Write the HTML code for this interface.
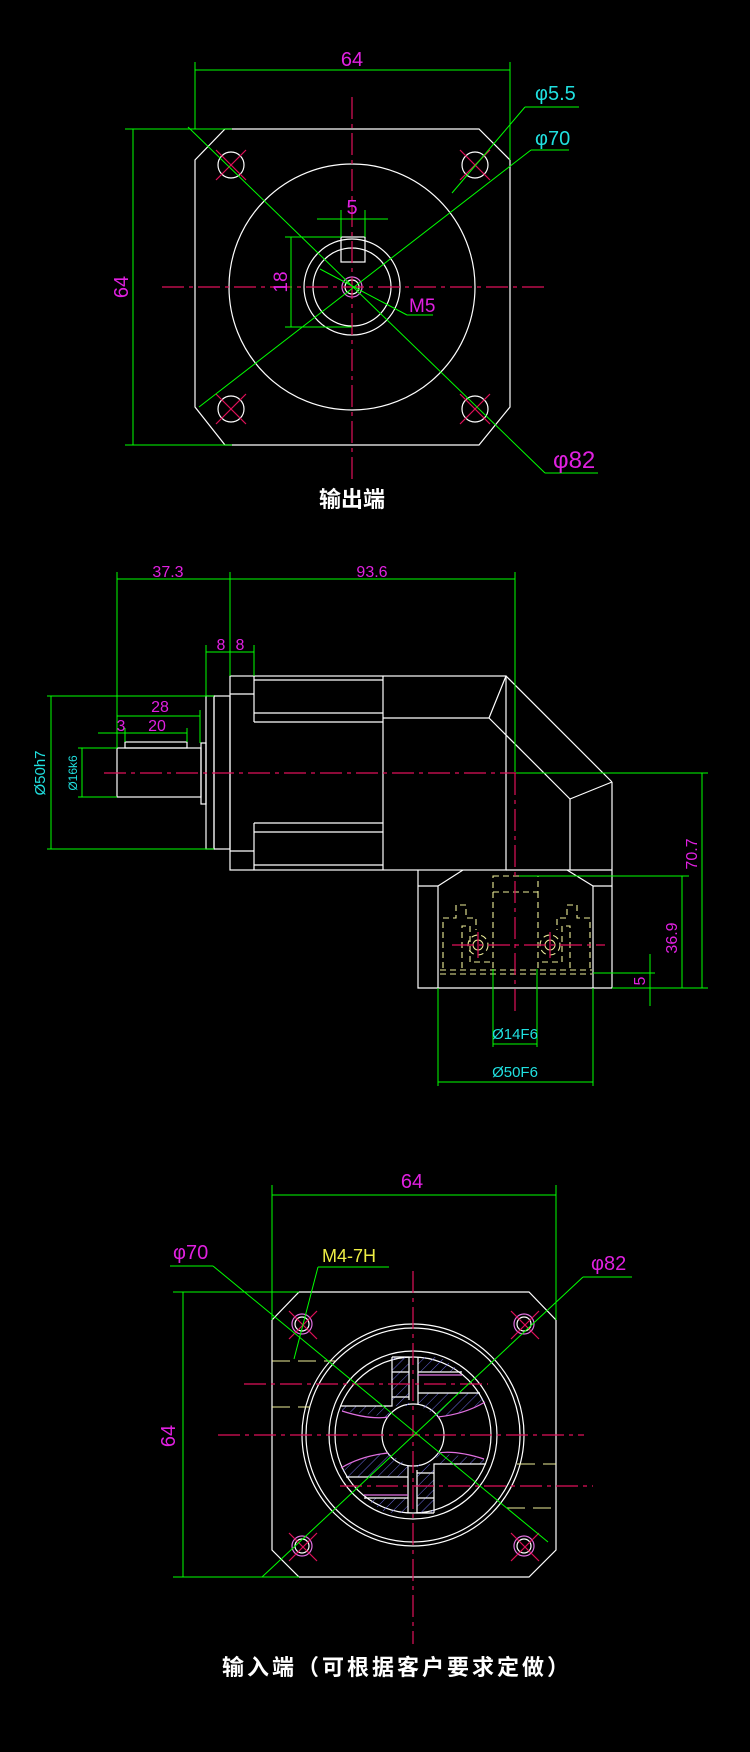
<!DOCTYPE html>
<html><head><meta charset="utf-8"><style>
html,body{margin:0;padding:0;background:#000;}
svg{display:block;}
text{font-family:"Liberation Sans","Noto Sans CJK SC",sans-serif;}
.w{stroke:#fff;stroke-width:1.2;fill:none}
.g{stroke:#0f0;stroke-width:1;fill:none}
.r{stroke:#e0105a;stroke-width:1.2;fill:none;stroke-dasharray:22 5 4 5}
.rs{stroke:#e0105a;stroke-width:1.2;fill:none}
.y{stroke:#ee9;stroke-width:1.1;fill:none;stroke-dasharray:6 4}
.m{fill:#e020e0}
.c{fill:#20e0e0}
.p{stroke:#e070e0;stroke-width:1.2;fill:none}
.h{stroke:#7070e0;stroke-width:0.8}
</style></head><body>
<svg width="750" height="1752" viewBox="0 0 750 1752" xmlns="http://www.w3.org/2000/svg">
<defs>
<pattern id="hp" width="7" height="7" patternUnits="userSpaceOnUse" patternTransform="rotate(45)">
<line x1="0" y1="0" x2="0" y2="7" stroke="#6a6ae0" stroke-width="1"/></pattern>
</defs>
<rect width="750" height="1752" fill="#000"/>

<!-- ===== TOP VIEW ===== -->
<polygon class="w" points="225,129 479,129 510,160 510,407 479,445 225,445 195,407 195,160"/>
<circle class="w" cx="352" cy="287" r="123"/>
<circle class="w" cx="352" cy="287" r="48"/>
<circle class="w" cx="352" cy="287" r="39"/>
<circle class="p" cx="352" cy="287" r="10"/>
<circle class="w" cx="352" cy="287" r="7"/>
<rect class="w" x="341" y="237" width="24" height="25"/>
<g class="w"><circle cx="231" cy="165" r="13"/><circle cx="475" cy="165" r="13"/><circle cx="231" cy="409" r="13"/><circle cx="475" cy="409" r="13"/></g>
<g class="rs">
<line x1="216" y1="180" x2="246" y2="150"/><line x1="216" y1="150" x2="246" y2="180"/>
<line x1="460" y1="180" x2="490" y2="150"/><line x1="460" y1="150" x2="490" y2="180"/>
<line x1="216" y1="424" x2="246" y2="394"/><line x1="216" y1="394" x2="246" y2="424"/>
<line x1="460" y1="424" x2="490" y2="394"/><line x1="460" y1="394" x2="490" y2="424"/>
</g>
<line class="r" x1="162" y1="287" x2="544" y2="287"/>
<line class="r" x1="352" y1="97" x2="352" y2="480"/>
<!-- dims -->
<g class="g">
<line x1="195" y1="62" x2="195" y2="129"/><line x1="510" y1="62" x2="510" y2="160"/>
<line x1="195" y1="70" x2="510" y2="70"/>
<line x1="125" y1="129" x2="232" y2="129"/><line x1="125" y1="445" x2="232" y2="445"/>
<line x1="133" y1="129" x2="133" y2="445"/>
<line x1="188" y1="127" x2="545" y2="473"/><line x1="545" y1="473" x2="598" y2="473"/>
<line x1="199" y1="407" x2="531" y2="150"/><line x1="531" y1="150" x2="569" y2="150"/>
<line x1="452" y1="193" x2="525" y2="107"/><line x1="525" y1="107" x2="579" y2="107"/>
<line x1="317" y1="219" x2="388" y2="219"/><line x1="341" y1="210" x2="341" y2="237"/><line x1="365" y1="210" x2="365" y2="237"/>
<line x1="285" y1="237" x2="341" y2="237"/><line x1="285" y1="327" x2="352" y2="327"/>
<line x1="291" y1="237" x2="291" y2="327"/>
<line x1="320" y1="269" x2="407" y2="315"/><line x1="407" y1="315" x2="433" y2="315"/>
</g>
<text class="m" x="352" y="66" font-size="20" text-anchor="middle">64</text>
<text class="m" x="0" y="0" font-size="20" text-anchor="middle" transform="translate(128,287) rotate(-90)">64</text>
<text class="m" x="352" y="214" font-size="20" text-anchor="middle">5</text>
<text class="m" x="0" y="0" font-size="19" text-anchor="middle" transform="translate(287,282) rotate(-90)">18</text>
<text class="m" x="409" y="312" font-size="19">M5</text>
<text class="c" x="535" y="100" font-size="20">φ5.5</text>
<text class="c" x="535" y="145" font-size="20">φ70</text>
<text class="m" x="553" y="468" font-size="24">φ82</text>
<text x="352" y="507" font-size="22" font-weight="bold" fill="#fff" text-anchor="middle" style="font-family:'Noto Sans CJK SC',sans-serif">输出端</text>

<!-- ===== SIDE VIEW ===== -->
<g class="w">
<rect x="230" y="676" width="276" height="194"/>
<line x1="230" y1="694" x2="254" y2="694"/><line x1="230" y1="851" x2="254" y2="851"/>
<line x1="254" y1="676" x2="254" y2="722"/><line x1="254" y1="823" x2="254" y2="870"/>
<line x1="254" y1="680" x2="383" y2="680"/><line x1="254" y1="713" x2="383" y2="713"/><line x1="254" y1="722" x2="383" y2="722"/>
<line x1="254" y1="823" x2="383" y2="823"/><line x1="254" y1="832" x2="383" y2="832"/><line x1="254" y1="865" x2="383" y2="865"/>
<line x1="383" y1="676" x2="383" y2="870"/>
<line x1="383" y1="718" x2="489" y2="718"/>
<line x1="506" y1="676" x2="489" y2="718"/>
<line x1="506" y1="676" x2="612" y2="782"/>
<line x1="489" y1="718" x2="570" y2="799"/>
<line x1="570" y1="799" x2="612" y2="782"/>
<line x1="570" y1="799" x2="570" y2="870"/>
<line x1="506" y1="870" x2="612" y2="870"/>
<line x1="612" y1="782" x2="612" y2="988"/>
<polyline points="418,870 418,988 612,988"/>
<line x1="438" y1="886" x2="438" y2="988"/><line x1="593" y1="886" x2="593" y2="988"/>
<line x1="418" y1="886" x2="438" y2="886"/><line x1="593" y1="886" x2="612" y2="886"/>
<line x1="438" y1="886" x2="463" y2="870"/><line x1="593" y1="886" x2="567" y2="870"/>
<rect x="206" y="696" width="8" height="153"/>
<rect x="214" y="696" width="16" height="153"/>
<rect x="201" y="743" width="5" height="61"/>
<rect x="117" y="748" width="84" height="49"/>
<rect x="125" y="742" width="62" height="6"/>
</g>
<!-- yellow hidden -->
<g class="y">
<rect x="493" y="876" width="45" height="16"/>
<line x1="493" y1="892" x2="493" y2="969"/><line x1="538" y1="892" x2="538" y2="969"/>
<line x1="440" y1="970" x2="592" y2="970"/><line x1="440" y1="974" x2="592" y2="974"/>
<polyline points="443,968 443,918 456,918 456,905 466,905 466,918 476,918 476,930"/>
<polyline points="462,968 462,926 470,926 470,962 490,962"/>
<polyline points="590,968 590,918 577,918 577,905 567,905 567,918 557,918 557,930"/>
<polyline points="570,968 570,926 562,926 562,962 540,962"/>
<circle cx="478" cy="945" r="10"/><circle cx="550" cy="945" r="10"/>
</g>
<circle cx="478" cy="945" r="5" fill="none" stroke="#ee9"/><circle cx="550" cy="945" r="5" fill="none" stroke="#ee9"/>
<line class="r" x1="452" y1="945" x2="605" y2="945"/>
<line class="rs" x1="478" y1="932" x2="478" y2="958"/><line class="rs" x1="550" y1="932" x2="550" y2="958"/>
<line class="r" x1="104" y1="773" x2="516" y2="773"/>
<line class="r" x1="515" y1="773" x2="515" y2="1015"/>
<g class="g">
<line x1="117" y1="572" x2="117" y2="748"/><line x1="230" y1="572" x2="230" y2="676"/>
<line x1="515" y1="572" x2="515" y2="772"/>
<line x1="117" y1="579" x2="515" y2="579"/>
<line x1="206" y1="645" x2="206" y2="696"/><line x1="254" y1="645" x2="254" y2="676"/>
<line x1="206" y1="652" x2="254" y2="652"/>
<line x1="47" y1="696" x2="214" y2="696"/><line x1="47" y1="849" x2="214" y2="849"/>
<line x1="51" y1="696" x2="51" y2="849"/>
<line x1="78" y1="748" x2="117" y2="748"/><line x1="78" y1="797" x2="117" y2="797"/>
<line x1="82" y1="748" x2="82" y2="797"/>
<line x1="117" y1="716" x2="200" y2="716"/><line x1="200" y1="710" x2="200" y2="743"/>
<line x1="98" y1="733" x2="187" y2="733"/><line x1="125" y1="728" x2="125" y2="742"/><line x1="187" y1="728" x2="187" y2="742"/>
<line x1="516" y1="773" x2="708" y2="773"/><line x1="702" y1="773" x2="702" y2="988"/>
<line x1="519" y1="876" x2="689" y2="876"/><line x1="682" y1="876" x2="682" y2="988"/>
<line x1="612" y1="988" x2="708" y2="988"/>
<line x1="593" y1="973" x2="655" y2="973"/><line x1="650" y1="954" x2="650" y2="1006"/>
<line x1="493" y1="969" x2="493" y2="1047"/><line x1="537" y1="969" x2="537" y2="1047"/>
<line x1="493" y1="1044" x2="537" y2="1044"/>
<line x1="438" y1="988" x2="438" y2="1086"/><line x1="593" y1="988" x2="593" y2="1086"/>
<line x1="438" y1="1082" x2="593" y2="1082"/>
</g>
<text class="m" x="168" y="577" font-size="16" text-anchor="middle">37.3</text>
<text class="m" x="372" y="577" font-size="16" text-anchor="middle">93.6</text>
<text class="m" x="221" y="650" font-size="16" text-anchor="middle">8</text>
<text class="m" x="240" y="650" font-size="16" text-anchor="middle">8</text>
<text class="m" x="160" y="712" font-size="16" text-anchor="middle">28</text>
<text class="m" x="121" y="731" font-size="16" text-anchor="middle">3</text>
<text class="m" x="157" y="731" font-size="16" text-anchor="middle">20</text>
<text class="c" x="0" y="0" font-size="15" text-anchor="middle" transform="translate(45,773) rotate(-90)">Ø50h7</text>
<text class="c" x="0" y="0" font-size="12" text-anchor="middle" transform="translate(77,773) rotate(-90)">Ø16k6</text>
<text class="m" x="0" y="0" font-size="16" text-anchor="middle" transform="translate(697,854) rotate(-90)">70.7</text>
<text class="m" x="0" y="0" font-size="16" text-anchor="middle" transform="translate(677,938) rotate(-90)">36.9</text>
<text class="m" x="0" y="0" font-size="16" text-anchor="middle" transform="translate(645,981) rotate(-90)">5</text>
<text class="c" x="515" y="1039" font-size="15" text-anchor="middle">Ø14F6</text>
<text class="c" x="515" y="1077" font-size="15" text-anchor="middle">Ø50F6</text>

<!-- ===== INPUT VIEW ===== -->
<polygon class="w" points="299,1292 529,1292 556,1320 556,1550 529,1577 299,1577 272,1550 272,1320"/>
<g class="w">
<circle cx="413" cy="1435" r="111"/><circle cx="413" cy="1435" r="107"/>
<circle cx="413" cy="1435" r="84"/><circle cx="413" cy="1435" r="78"/>
<circle cx="413" cy="1435" r="31"/>
</g>
<!-- blades -->
<g id="bl">
<path d="M392,1357 L409,1357 L409,1406 L392,1406 Z M342,1406 L392,1406 L388,1417 Q365,1414 342,1411 Z" fill="url(#hp)"/>
<path d="M418,1357 L440,1357 L462,1372 L418,1372 Z M418,1393 L480,1393 L485,1402 Q460,1414 438,1417 L418,1405 Z" fill="url(#hp)"/>
<g class="w">
<polyline points="392,1357 409,1357 409,1400"/>
<polyline points="392,1357 392,1406 340,1406"/>
<line x1="392" y1="1372" x2="409" y2="1372"/><line x1="392" y1="1397" x2="409" y2="1397"/>
<polyline points="418,1357 418,1404"/>
<line x1="418" y1="1372" x2="462" y2="1372"/>
<line x1="418" y1="1393" x2="480" y2="1393"/>
</g>
<path class="p" d="M342,1411 Q370,1420 388,1417"/>
<path class="p" d="M438,1417 Q465,1414 485,1402"/>
<line class="p" x1="418" y1="1375" x2="462" y2="1375"/>
</g>
<use href="#bl" transform="rotate(180 413 1435)"/>
<!-- holes -->
<g>
<circle cx="302" cy="1324" r="10" class="p"/><circle cx="302" cy="1324" r="7" class="w"/>
<circle cx="524" cy="1324" r="10" class="p"/><circle cx="524" cy="1324" r="7" class="w"/>
<circle cx="302" cy="1546" r="10" class="p"/><circle cx="302" cy="1546" r="7" class="w"/>
<circle cx="524" cy="1546" r="10" class="p"/><circle cx="524" cy="1546" r="7" class="w"/>
</g>
<g class="rs">
<line x1="289" y1="1339" x2="317" y2="1311"/><line x1="289" y1="1311" x2="317" y2="1339"/>
<line x1="511" y1="1339" x2="539" y2="1311"/><line x1="511" y1="1311" x2="539" y2="1339"/>
<line x1="289" y1="1561" x2="317" y2="1533"/><line x1="289" y1="1533" x2="317" y2="1561"/>
<line x1="511" y1="1561" x2="539" y2="1533"/><line x1="511" y1="1533" x2="539" y2="1561"/>
</g>
<line class="r" x1="413" y1="1271" x2="413" y2="1644"/>
<line class="r" x1="218" y1="1435" x2="584" y2="1435"/>
<line class="r" x1="244" y1="1384" x2="488" y2="1384"/>
<line class="r" x1="340" y1="1486" x2="593" y2="1486"/>
<g class="y" style="stroke-dasharray:18 8">
<line x1="272" y1="1361" x2="335" y2="1361"/><line x1="272" y1="1407" x2="310" y2="1407"/>
<line x1="517" y1="1464" x2="556" y2="1464"/><line x1="507" y1="1508" x2="556" y2="1508"/>
</g>
<g class="g">
<line x1="272" y1="1185" x2="272" y2="1320"/><line x1="556" y1="1185" x2="556" y2="1320"/>
<line x1="272" y1="1195" x2="556" y2="1195"/>
<line x1="173" y1="1292" x2="299" y2="1292"/><line x1="173" y1="1577" x2="299" y2="1577"/>
<line x1="183" y1="1292" x2="183" y2="1577"/>
<line x1="170" y1="1266" x2="213" y2="1266"/><line x1="213" y1="1266" x2="548" y2="1542"/>
<line x1="583" y1="1277" x2="632" y2="1277"/><line x1="583" y1="1277" x2="262" y2="1577"/>
<line x1="318" y1="1267" x2="389" y2="1267"/><line x1="318" y1="1267" x2="294" y2="1359"/>
</g>
<text class="m" x="412" y="1188" font-size="20" text-anchor="middle">64</text>
<text class="m" x="0" y="0" font-size="20" text-anchor="middle" transform="translate(175,1436) rotate(-90)">64</text>
<text class="m" x="173" y="1259" font-size="20">φ70</text>
<text class="m" x="591" y="1270" font-size="20">φ82</text>
<text x="322" y="1262" font-size="18" fill="#ee4">M4-7H</text>
<text x="397" y="1675" font-size="22" font-weight="bold" fill="#fff" text-anchor="middle" letter-spacing="3" style="font-family:'Noto Sans CJK SC',sans-serif">输入端（可根据客户要求定做）</text>
</svg>
</body></html>
